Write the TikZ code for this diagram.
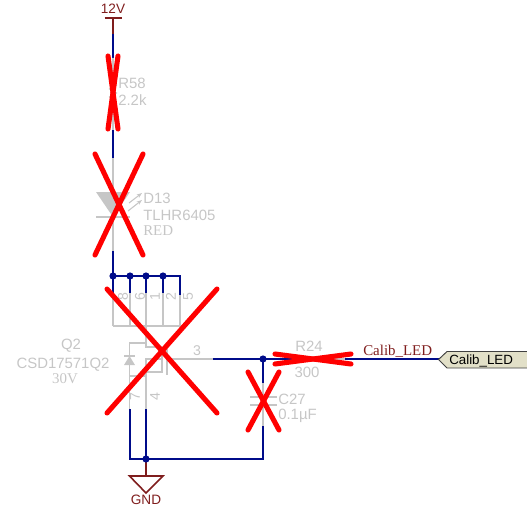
\documentclass[tikz,border=0pt]{standalone}
\usepackage{fontspec}
\setmainfont{Liberation Serif}
\setsansfont{Liberation Sans}
\usetikzlibrary{arrows.meta}
\definecolor{wirecol}{HTML}{000C8A}
\definecolor{powcol}{HTML}{7F1D1D}
\definecolor{ghostcol}{HTML}{C6C6C6}
\definecolor{portcol}{HTML}{E2E0C8}
\tikzset{
  wire/.style={draw=wirecol,line width=1.2pt},
  pow/.style={draw=powcol,line width=1.2pt},
  ghost/.style={draw=ghostcol,line width=1.2pt},
  cross/.style={draw=red,line width=3.8pt,line cap=round},
  junc/.style={circle,fill=wirecol,inner sep=0pt,minimum size=5.4pt},
  ghosttxt/.style={text=ghostcol,font=\sffamily\fontsize{11.2}{12}\selectfont,inner sep=0pt},
  ghostval/.style={text=ghostcol,font=\rmfamily\fontsize{11.2}{12}\selectfont,inner sep=0pt},
  pintxt/.style={text=ghostcol,font=\sffamily\fontsize{10.6}{11}\selectfont,inner sep=0pt},
  powtxt/.style={text=powcol,font=\sffamily\fontsize{10.2}{11}\selectfont,inner sep=0pt},
}
\begin{document}
\begin{tikzpicture}[x=0.75pt,y=-0.75pt]
        \useasboundingbox (0,0) rectangle (527,510);

        % power rail and R58
        \coordinate (vcc) at (113,18);
        \coordinate (vccw) at (113,34);
        \coordinate (r58t) at (113,58);
        \coordinate (r58b) at (113,130);
        \coordinate (d13t) at (113,158);
        \coordinate (d13b) at (113,251);
        \coordinate (j1) at (113,276);
        \coordinate (j2) at (130,276);
        \coordinate (j3) at (146,276);
        \coordinate (j4) at (163,276);
        \coordinate (j5) at (180,276);

        \node[powtxt] (lblvcc) at (113,9) {12V};
        \draw[pow] (104.5,18) -- (122,18);
        \draw[pow] (vcc) -- (vccw);
        \draw[wire] (vccw) -- (r58t);
        \draw[ghost] (r58t) -- (113,78) -- (110,81) -- (116,85) -- (110,89) -- (116,93) -- (110,97) -- (113,100) -- (r58b);
        \draw[wire] (r58b) -- (d13t);
        \node[ghosttxt,anchor=west] (r58) at (118,83) {R58};
        \node[ghosttxt,anchor=west] (r58v) at (118,100) {2.2k};

        % LED
        \draw[ghost] (d13t) -- (d13b);
        \fill[ghostcol] (96,192) -- (130,192) -- (113,217) -- cycle;
        \draw[ghost] (96,217) -- (130,217);
        \draw[draw=ghostcol,line width=.8pt,-{Stealth[length=4pt]}] (129,203) -- (142,193);
        \draw[draw=ghostcol,line width=.8pt,-{Stealth[length=4pt]}] (128,211) -- (142,200);
        \node[ghosttxt,anchor=west] (d13) at (143,198) {D13};
        \node[ghosttxt,anchor=west] (d13p) at (143,215) {TLHR6405};
        \node[ghostval,anchor=west] (d13v) at (143,231) {RED};

        % drain pins
        \draw[wire] (d13b) -- (j1) -- (j5) -- (180,295);
        \foreach \nm/\px in {j1/113,j2/130,j3/146,j4/163} {
          \draw[wire] (\nm) -- (\px,293);
          \draw[ghost] (\px,293) -- (\px,326);
          \node[junc] at (\nm) {};
        }
        \draw[ghost] (180,295) -- (180,326) -- (113,326);
        \foreach \pin/\px in {8/123,6/140,1/155,2/171,5/188}
          \node[pintxt,rotate=90] at (\px,297) {\pin};

        % Q2
        \coordinate (qg) at (167,359);
        \coordinate (qs) at (146,409);
        \coordinate (qa) at (130,409);
        \draw[ghost] (146,326) -- (146,347) -- (162,347);
        \draw[ghost] (146,343) -- (129.5,343) -- (129.5,409);
        \fill[ghostcol] (129.5,356) -- (135,365) -- (124,365) -- cycle;
        \draw[ghost] (124,356) -- (135,356);
        \draw[ghost] (129.5,376) -- (146,376);
        \draw[ghost] (162,359) -- (146,359) -- (qs);
        \draw[ghost] (146,372) -- (163,372);
        \draw[ghost] (162,347) -- (162,372);
        \draw[ghost] (167,349) -- (167,375);
        \draw[ghost] (qg) -- (213,359);
        \node[pintxt] (pin3) at (197,351) {3};
        \node[pintxt,rotate=90] (pin7) at (135,397) {7};
        \node[pintxt,rotate=90] (pin4) at (155,397) {4};
        \node[ghosttxt] (q2) at (71,346) {Q2};
        \node[ghosttxt] (q2p) at (63,365) {CSD17571Q2};
        \node[ghostval] (q2v) at (65,379) {30V};

        % output net, R24, port
        \coordinate (n3) at (213,359);
        \coordinate (j6) at (263,359);
        \coordinate (r24l) at (298,359);
        \coordinate (r24r) at (345,359);
        \coordinate (c27t) at (263,383);
        \coordinate (c27b) at (263,426);
        \draw[wire] (n3) -- (j6) -- (r24l);
        \draw[ghost] (r24l) -- (r24r);
        \draw[wire] (r24r) -- (439,359);
        \draw[wire] (j6) -- (c27t);
        \draw[ghost] (c27t) -- (c27b);
        \draw[ghost,line width=1.4pt] (250,397) -- (277,397);
        \draw[ghost,line width=1.4pt] (250,405) -- (277,405);
        \node[ghosttxt,anchor=west] (c27) at (278,399) {C27};
        \node[ghosttxt,anchor=west] (c27v) at (278,416) {0.1µF};
        \node[ghosttxt] (r24) at (309,346) {R24};
        \node[ghosttxt] (r24v) at (307,372) {300};
        \node[text=powcol,font=\rmfamily\fontsize{11.2}{12}\selectfont,inner sep=0pt,anchor=base west] (netlbl) at (363,355) {Calib\_LED};
        \draw[draw=black!75,fill=portcol,line width=.7pt] (530,351.5) -- (447,351.5) -- (438.5,359.5) -- (447,368) -- (530,368);
        \node[text=black,font=\sffamily\fontsize{10}{11}\selectfont,inner sep=0pt,anchor=base west] (port) at (449,364) {Calib\_LED};

        % ground
        \coordinate (j7) at (146,459);
        \coordinate (gnd) at (146,476);
        \draw[wire] (qa) -- (130,459) -- (263,459) -- (c27b);
        \draw[wire] (qs) -- (j7);
        \draw[pow] (j7) -- (gnd);
        \draw[pow] (129.5,476) -- (163,476) -- (146,493) -- cycle;
        \node[junc] at (j6) {};
        \node[junc] at (j7) {};
        \node[powtxt] (lblgnd) at (146,500) {GND};

        % crossed out parts
        \draw[cross] (108,56) -- (118,129);
        \draw[cross] (118,56) -- (108,129);
        \draw[cross] (95,154) -- (143,255);
        \draw[cross] (143,154) -- (95,255);
        \draw[cross] (107,289) -- (217,413);
        \draw[cross] (217,289) -- (107,413);
        \draw[cross] (275,354) -- (351,364);
        \draw[cross] (275,364) -- (351,354);
        \draw[cross] (248,372) -- (279,430);
        \draw[cross] (279,372) -- (248,430);
\end{tikzpicture}
\end{document}
